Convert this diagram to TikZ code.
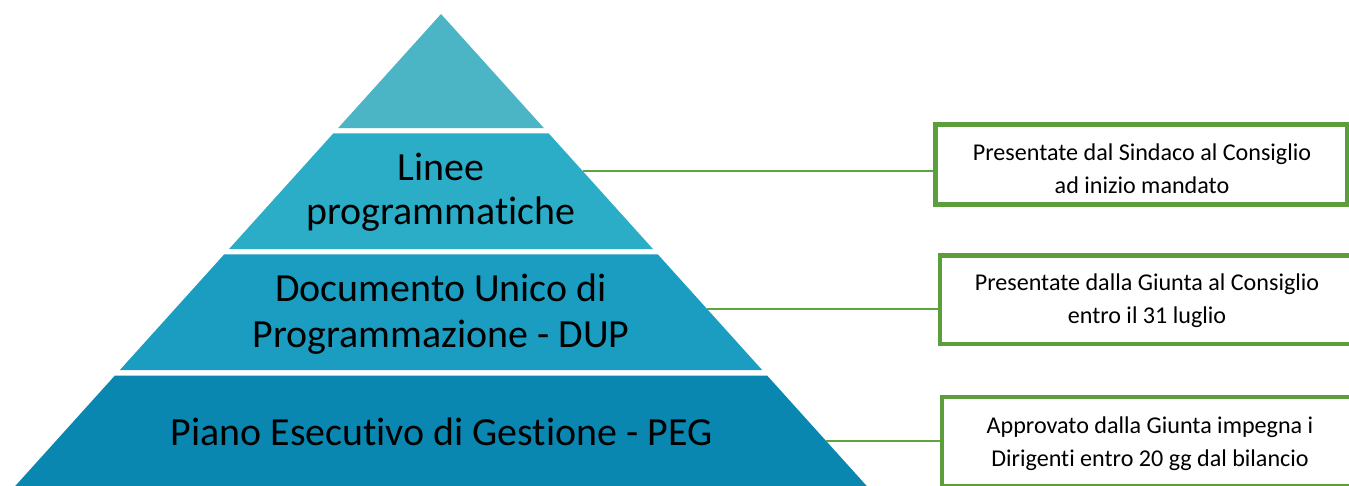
\documentclass[tikz,border=0pt]{standalone}
\usepackage{fontspec}
\setmainfont{Carlito}[RawFeature={-liga,-clig,-calt,-dlig}]
\definecolor{pyrA}{HTML}{4BB5C6}
\definecolor{pyrB}{HTML}{2CADC7}
\definecolor{pyrC}{HTML}{1A9DC0}
\definecolor{pyrD}{HTML}{0987B1}
\definecolor{boxgreen}{HTML}{5C9E3C}
\definecolor{linkgreen}{HTML}{5EA53E}
\newcommand\pyrband[3]{%
  \fill[#3] ({441-0.902*(#1-14)},#1) -- ({441+0.902*(#1-14)},#1)
    -- ({441+0.902*(#2-14)},#2) -- ({441-0.902*(#2-14)},#2) -- cycle;}
\begin{document}
\begin{tikzpicture}[x=1pt,y=-1pt,
  pyrtext/.style={inner sep=0pt, anchor=base},
  boxframe/.style={draw=boxgreen, line width=4.5pt, fill=white, inner sep=0pt},
  boxtext/.style={inner sep=0pt, anchor=base, font=\fontsize{24.1}{33}\selectfont},
  link/.style={draw=linkgreen, line width=2.2pt}]
\useasboundingbox (0,0) rectangle (1349,485);
\fill[white] (0,0) rectangle (1349,485);
% pyramid
\fill[pyrA] (441,14) -- ({441+0.902*114},128) -- ({441-0.902*114},128) -- cycle;
\pyrband{133.3}{249}{pyrB}
\pyrband{254.3}{370}{pyrC}
\pyrband{375.7}{490}{pyrD}
% pyramid labels
\node[pyrtext, font=\fontsize{39.9}{43.3}\selectfont] (linee) at (441,180.7)
  {\begin{tabular}[t]{@{}c@{}}Linee\\programmatiche\end{tabular}};
\node[pyrtext, font=\fontsize{39.9}{45.6}\selectfont] (dup) at (441,301.7)
  {\begin{tabular}[t]{@{}c@{}}Documento Unico di\\Programmazione - DUP\end{tabular}};
\node[pyrtext, font=\fontsize{39.9}{45}\selectfont] (peg) at (441.5,445)
  {Piano Esecutivo di Gestione - PEG};
% boxes
\node[boxframe, minimum width=411.3pt, minimum height=80pt] (box1) at (1141.2,164.5) {};
\node[boxframe, minimum width=418pt, minimum height=88.3pt] (box2) at (1149,299.65) {};
\node[boxframe, minimum width=419.8pt, minimum height=89.3pt] (box3) at (1152.1,441.85) {};
\node[boxtext] (box1text) at (1142,160)
  {\begin{tabular}[t]{@{}c@{}}Presentate dal Sindaco al Consiglio\\ad inizio mandato\end{tabular}};
\node[boxtext] (box2text) at (1147,290.7)
  {\begin{tabular}[t]{@{}c@{}}Presentate dalla Giunta al Consiglio\\entro il 31 luglio\end{tabular}};
\node[boxtext] (box3text) at (1150,433.3)
  {\begin{tabular}[t]{@{}c@{}}Approvato dalla Giunta impegna i\\Dirigenti entro 20 gg dal bilancio\end{tabular}};
% connectors
\coordinate (c1) at ({441+0.902*(171-14)},171);
\coordinate (c2) at ({441+0.902*(309-14)},309);
\coordinate (c3) at ({441+0.902*(441-14)},441);
\draw[link] (c1) -- (c1 -| box1.west);
\draw[link] (c2) -- (c2 -| box2.west);
\draw[link] (c3) -- (c3 -| box3.west);
\end{tikzpicture}
\end{document}
